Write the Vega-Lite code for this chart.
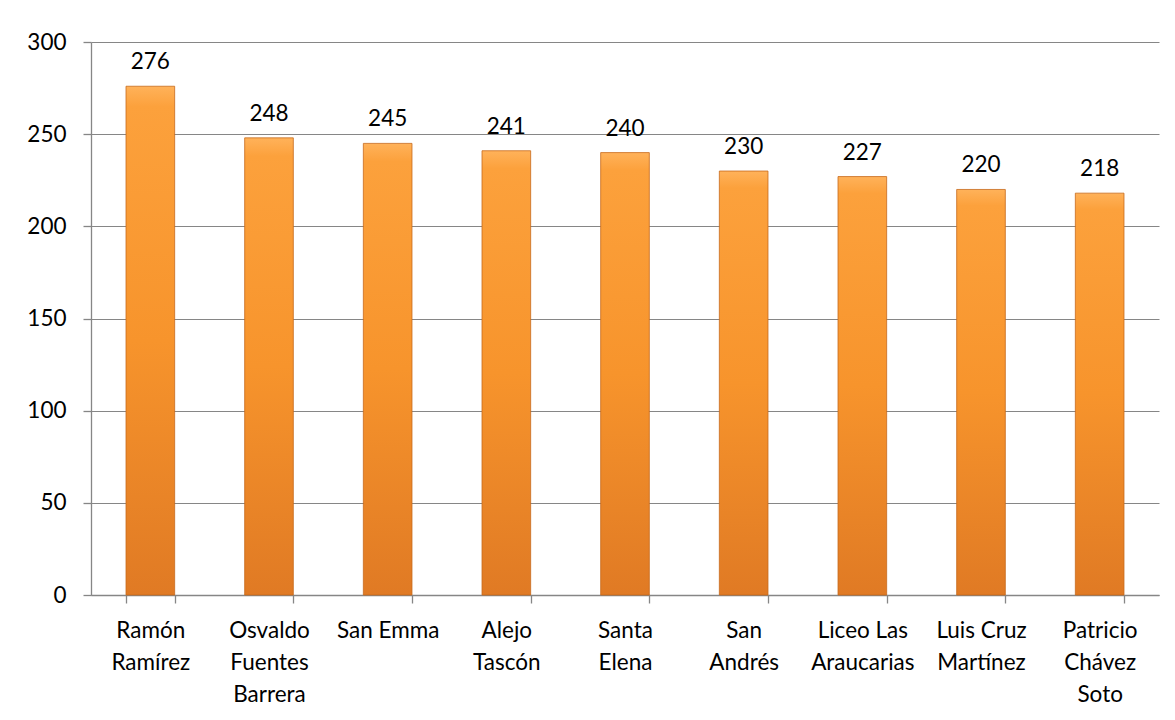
{
  "$schema": "https://vega.github.io/schema/vega-lite/v6.json",
  "autosize": "none",
  "width": 1068,
  "height": 553,
  "padding": {"left": 91, "top": 42, "right": 16, "bottom": 125},
  "background": "white",
  "config": {
    "view": {"stroke": null},
    "font": "Lato"
  },
  "data": {
    "values": [
      {"escuela": "Ramón\nRamírez", "valor": 276},
      {"escuela": "Osvaldo\nFuentes\nBarrera", "valor": 248},
      {"escuela": "San Emma", "valor": 245},
      {"escuela": "Alejo\nTascón", "valor": 241},
      {"escuela": "Santa\nElena", "valor": 240},
      {"escuela": "San\nAndrés", "valor": 230},
      {"escuela": "Liceo Las\nAraucarias", "valor": 227},
      {"escuela": "Luis Cruz\nMartínez", "valor": 220},
      {"escuela": "Patricio\nChávez\nSoto", "valor": 218}
    ]
  },
  "encoding": {
    "x": {
      "field": "escuela",
      "type": "nominal",
      "sort": null,
      "scale": {"paddingInner": 0.59, "paddingOuter": 0.295},
      "axis": {
        "title": null,
        "labelAngle": 0,
        "labelExpr": "isValid(datum.value) ? split(datum.value, '\\n') : ''",
        "labelFont": "Lato",
        "labelFontSize": 22.5,
        "labelColor": "#000000",
        "labelLineHeight": 32,
        "labelPadding": 16,
        "labelBaseline": "top",
        "ticks": true,
        "tickBand": "extent",
        "tickSize": 8,
        "tickWidth": 1.3,
        "tickColor": "#868686",
        "domainColor": "#868686",
        "domainWidth": 1.3,
        "grid": false
      }
    },
    "y": {
      "field": "valor",
      "type": "quantitative",
      "scale": {"domain": [0, 300], "nice": false},
      "axis": {
        "title": null,
        "values": [0, 50, 100, 150, 200, 250, 300],
        "labelFont": "Lato",
        "labelFontSize": 22.5,
        "labelColor": "#000000",
        "labelPadding": 17,
        "ticks": true,
        "tickSize": 8,
        "tickWidth": 1.3,
        "tickColor": "#868686",
        "domainColor": "#868686",
        "domainWidth": 1.3,
        "gridColor": "#868686",
        "gridWidth": 1
      }
    }
  },
  "layer": [
    {
      "mark": {
        "type": "bar",
        "stroke": "#C76A1C",
        "strokeWidth": 0.8,
        "color": {
          "gradient": "linear",
          "x1": 0, "y1": 0, "x2": 0, "y2": 1,
          "stops": [
            {"offset": 0, "color": "#FFB25A"},
            {"offset": 0.04, "color": "#FCA13C"},
            {"offset": 0.5, "color": "#F7942C"},
            {"offset": 1, "color": "#E07A24"}
          ]
        }
      }
    },
    {
      "mark": {
        "type": "text",
        "baseline": "bottom",
        "dy": -12,
        "font": "Lato",
        "fontSize": 22.5,
        "color": "#000000"
      },
      "encoding": {
        "text": {"field": "valor", "type": "quantitative"}
      }
    }
  ]
}
